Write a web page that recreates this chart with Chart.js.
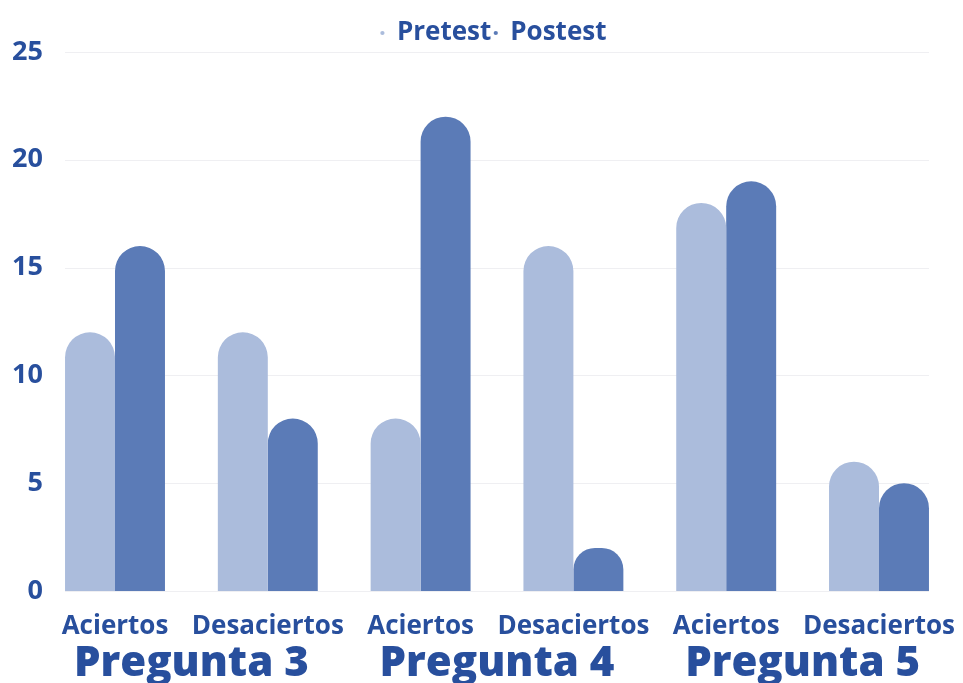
<!DOCTYPE html>
<html>
<head>
<meta charset="utf-8">
<script src="https://cdn.jsdelivr.net/npm/chart.js@4/dist/chart.umd.min.js"></script>
<style>
  html, body { margin: 0; padding: 0; background: #ffffff; }
  #wrap { width: 963px; height: 683px; }
</style>
</head>
<body>
<div id="wrap"><canvas id="c" width="963" height="683"></canvas></div>
<script>
const categories = ["Aciertos", "Desaciertos", "Aciertos", "Desaciertos", "Aciertos", "Desaciertos"];
const groups = ["Pregunta 3", "Pregunta 4", "Pregunta 5"];
const pretest = [12, 12, 8, 16, 18, 6];
const postest = [16, 8, 22, 2, 19, 5];
const yTicks = [0, 5, 10, 15, 20, 25];

const textColor = "#284f9d";
const gridColor = "#efeff2";
const fontFamily = "'Open Sans', 'Noto Sans', sans-serif";

const noClip = (s) => { s._computeLabelArea = () => undefined; };

// gridlines spanning from first bar to last bar
const gridPlugin = {
  id: "barGrid",
  beforeDatasetsDraw(chart) {
    const y = chart.scales.y;
    const m0 = chart.getDatasetMeta(0), m1 = chart.getDatasetMeta(chart.data.datasets.length - 1);
    const first = m0.data[0], last = m1.data[m1.data.length - 1];
    if (!first || !last) return;
    const x0 = first.x - first.width / 2, x1 = last.x + last.width / 2;
    const ctx = chart.ctx;
    ctx.save();
    ctx.strokeStyle = gridColor;
    ctx.lineWidth = 1;
    y.ticks.forEach(t => {
      const py = Math.round(y.getPixelForValue(t.value)) + 0.5;
      ctx.beginPath(); ctx.moveTo(x0, py); ctx.lineTo(x1, py); ctx.stroke();
    });
    ctx.restore();
  }
};

new Chart(document.getElementById("c"), {
  type: "bar",
  data: {
    labels: categories,
    datasets: [
      { label: "Pretest", data: pretest, backgroundColor: "#abbcdc", borderRadius: 30, borderSkipped: "start",
        categoryPercentage: 0.654, barPercentage: 1.0 },
      { label: "Postest", data: postest, backgroundColor: "#5b7bb7", borderRadius: 30, borderSkipped: "start",
        categoryPercentage: 0.654, barPercentage: 1.0 }
    ]
  },
  plugins: [gridPlugin],
  options: {
    responsive: false,
    animation: false,
    layout: { padding: { top: 17, right: 7.6, bottom: 0, left: 32 } },
    plugins: {
      legend: {
        position: "top",
        maxHeight: 35,
        labels: {
          usePointStyle: true, pointStyle: "circle", boxWidth: 3, boxHeight: 3,
          color: textColor, font: { family: fontFamily, size: 26, weight: "bold" }, padding: 3
        }
      },
      tooltip: { enabled: false }
    },
    scales: {
      x: {
        type: "category",
        position: "bottom",
        weight: 0,
        offset: true,
        grid: { display: false },
        border: { display: false },
        ticks: { autoSkip: false, maxRotation: 0, minRotation: 0, padding: 0,
                 color: textColor, font: { family: fontFamily, size: 26, weight: "bold", lineHeight: 2.1 } },
        afterFit: (s) => { s.height = 40; noClip(s); }
      },
      x2: {
        type: "category",
        position: "bottom",
        weight: 1,
        labels: groups,
        offset: true,
        grid: { display: false },
        border: { display: false },
        ticks: { autoSkip: false, maxRotation: 0, minRotation: 0, padding: 0,
                 color: textColor, font: { family: fontFamily, size: 42, weight: "800", lineHeight: 1.2 } },
        afterFit: (s) => { s.height = 52; noClip(s); }
      },
      y: {
        min: 0, max: 25,
        afterBuildTicks: (s) => { s.ticks = yTicks.map(v => ({ value: v })); },
        grid: { display: false, drawTicks: false },
        border: { display: false },
        ticks: { padding: -4.4, color: textColor, font: { family: fontFamily, size: 27, weight: "bold" } },
        afterFit: (s) => { s.width = 6.6; noClip(s); }
      }
    }
  }
});
</script>
</body>
</html>
